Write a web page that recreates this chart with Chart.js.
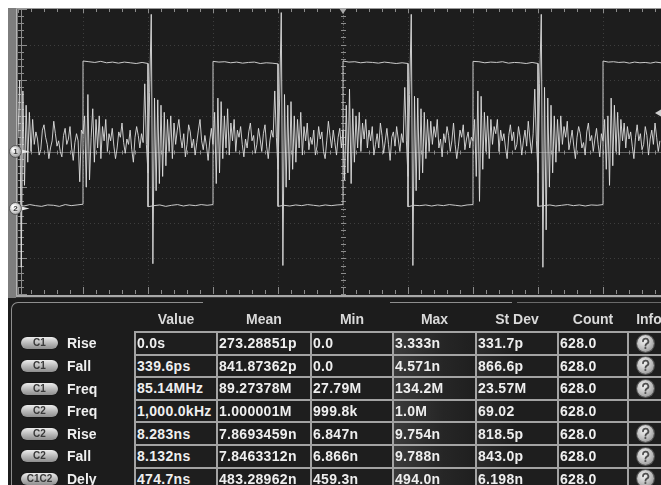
<!DOCTYPE html>
<html>
<head>
<meta charset="utf-8">
<script src="https://cdn.jsdelivr.net/npm/chart.js@4.4.1/dist/chart.umd.min.js"></script>
<style>
  html, body { margin: 0; padding: 0; background: #ffffff; }
  body { position: relative; width: 661px; height: 485px; overflow: hidden;
         font-family: "Liberation Sans", Arial, sans-serif; }
  #scope { position: absolute; left: 8px; top: 8px; width: 653px; height: 477px; background: #1c1c1c; }
  #wave { position: absolute; left: 8px; top: 8px; }
  #meas { position: absolute; left: 0; top: 0; width: 661px; height: 485px; overflow: hidden; }
  .frame { position: absolute; border-color: #8e8e8e; border-style: solid; border-width: 0; }
  .hd { position: absolute; top: 311px; height: 16px; line-height: 16px; font-weight: bold;
        font-size: 14px; color: #dadada; text-align: center; white-space: nowrap; }
  .gridbg { position: absolute; background: #a3a3a3; }
  .cell { position: absolute; background: #1e1e1e; color: #efefef; font-weight: bold; font-size: 14px;
          letter-spacing: 0.3px; white-space: nowrap; padding-left: 1px; box-sizing: border-box;
          display: flex; align-items: center; }
  .pill { position: absolute; left: 21px; width: 37px; height: 12px; border-radius: 6px;
          background: linear-gradient(#ededed, #b6b6b6 55%, #8e8e8e); color: #3a3a3a;
          font-weight: bold; font-size: 10px; line-height: 12px; text-align: center;
          box-shadow: 0 0 1px #000; }
  .rlab { position: absolute; left: 67px; height: 16px; line-height: 16px; color: #f0f0f0;
          font-weight: bold; font-size: 14px; }
  .info { position: absolute; width: 17px; height: 17px; border-radius: 50%;
          background: radial-gradient(circle at 40% 35%, #f4f4f4, #b9b9b9 55%, #7a7a7a);
          box-shadow: 0 0 0 1px #555; }
</style>
</head>
<body>
<div id="scope"></div>
<canvas id="wave" width="653" height="290"></canvas>
<div id="meas"></div>
<script>
// ---- time base: ns (500 ns / div), vertical: screen divisions ----
const X_MIN = -2500;
const X_MAX = 2446;
const Y_MIN = -4;
const Y_MAX = 4;

// Channel 1: sampled every 12.5 ns starting at X_MIN, one array per horizontal division
const C1_T0 = -2500;
const C1_DT = 12.5;
const c1Div0 = [0.4, 2.0, -3.25, 1.7, -0.95, 1.3, -0.3, 1.1, 0.0, 0.9,
  0.2, 0.55, 0.35, -0.1, 0.05, 0.6, 0.75, 0.4, 0.2, -0.2,
  0.1, 0.3, 0.85, 0.5, 0.15, 0.3, 0.0, -0.15, 0.45, 0.65,
  0.2, 0.35, 0.7, 0.1, -0.25, 0.25, 0.5, 0.3, -0.85, 0.6];
const c1Div1 = [0.5, 1.0, -1.0, 1.6, -0.8, 0.4, 1.2, -0.3, 0.9, 0.1,
  1.0, -0.2, 0.7, 0.3, 0.9, 0.0, 0.5, 0.3, 0.65, 0.15,
  -0.2, 0.1, 0.55, 0.4, 0.8, 0.25, -0.05, 0.35, 0.2, 0.6,
  0.05, -0.3, 0.4, 0.7, 0.45, 0.1, 0.5, 0.25, 1.9, 0.2];
const c1Div2 = [-0.6, 1.65, 3.85, -3.15, 1.5, -1.1, 1.45, -0.9, 1.3, -0.7,
  1.1, -0.4, 0.9, 0.0, 1.0, -0.2, 0.8, 0.2, 0.6, 0.9,
  0.4, 0.1, 0.5, -0.15, 0.2, 0.75, 0.55, 0.1, 0.35, -0.1,
  0.25, 0.6, 0.9, 0.3, 0.05, 0.45, 0.15, -0.25, 0.3, 0.65];
const c1Div3 = [0.2, 1.1, -0.9, 1.5, -0.6, 1.4, -0.2, 1.0, 0.1, 1.2,
  -0.1, 0.8, 0.3, 0.9, 0.0, 0.6, 0.4, 0.7, 0.2, -0.15,
  0.35, 0.1, 0.55, 0.8, 0.3, 0.45, -0.05, 0.2, 0.65, 0.35,
  0.0, 0.5, 0.75, 0.15, -0.2, 0.3, 0.6, 0.4, 1.7, 0.4];
const c1Div4 = [-0.5, 1.5, 3.9, -3.2, 1.6, -1.0, 1.3, -0.8, 1.4, -0.5,
  1.0, -0.3, 0.9, 0.1, 1.1, -0.1, 0.7, 0.3, 0.8, 0.05,
  0.4, 0.2, 0.6, -0.1, 0.15, 0.7, 0.35, 0.55, 0.0, -0.2,
  0.3, 0.85, 0.45, 0.1, 0.6, 0.25, -0.1, 0.4, 0.65, 0.1];
const c1Div5 = [0.6, -0.8, 1.3, -0.6, 1.75, -0.9, 1.2, -0.3, 1.0, 0.1,
  1.1, 0.0, 0.8, 0.35, 0.9, 0.1, 0.6, 0.3, 0.7, -0.1,
  0.2, 0.5, 0.1, 0.8, 0.45, -0.05, 0.3, 0.65, 0.2, -0.25,
  0.4, 0.55, 0.15, 0.7, 0.35, 0.0, 0.5, 0.25, 1.8, 0.3];
const c1Div6 = [-0.7, 1.6, 3.85, -3.2, 1.55, -1.1, 1.5, -0.8, 1.2, -0.6,
  1.1, -0.2, 0.9, 0.0, 0.85, 0.2, 0.7, 0.4, 0.9, 0.1,
  0.35, -0.15, 0.5, 0.25, 0.7, 0.45, 0.0, 0.3, 0.8, 0.2,
  -0.2, 0.15, 0.6, 0.4, 0.75, 0.05, 0.35, 0.55, 0.1, 0.4];
const c1Div7 = [0.3, 0.9, -0.7, 1.7, -1.4, 1.55, -0.5, 1.1, 0.0, 1.0,
  -0.2, 0.9, 0.2, 0.7, 0.5, 0.9, 0.0, 0.6, 0.3, 0.5,
  0.1, -0.2, 0.45, 0.75, 0.3, 0.55, 0.05, 0.2, 0.7, 0.4,
  -0.1, 0.3, 0.6, 0.15, 0.85, 0.35, -0.05, 0.5, 1.75, 0.3];
const c1Div8 = [-0.6, 1.9, 3.85, -3.25, 1.8, -2.2, 1.5, -1.0, 1.3, -0.6,
  1.0, -0.3, 0.9, 0.0, 1.0, 0.2, 0.7, 0.4, 0.85, 0.05,
  0.3, 0.6, 0.15, -0.2, 0.4, 0.7, 0.5, 0.1, 0.25, -0.1,
  0.55, 0.8, 0.3, 0.45, 0.0, 0.35, 0.65, 0.2, -0.15, 0.5];
const c1Div9 = [0.3, 0.9, -0.5, 1.0, -0.95, 1.5, -0.4, 1.3, 0.0, 1.1,
  -0.1, 0.9, 0.3, 0.8, 0.1, 0.7, 0.35, 0.55, 0.15, -0.2,
  0.4, 0.75, 0.3, 0.5, 0.05, 0.2, 0.7, 0.45, -0.1, 0.35,
  0.6, 0.2, 0.8, 0.4, 0.0, 0.3];

// Channel 2: 1 MHz square wave, edges (ns) and the level held between them (div)
const c2Edges = [-2500, -2000, -1500, -1000, -500, 0, 500, 1000, 1500, 2000, 2446];
const c2Levels = [-1.52, 2.49, -1.52, 2.49, -1.52, 2.49, -1.52, 2.49, -1.52, 2.49];
const c2Ripple = [
  [0.02, -0.01, 0.03, 0.0, -0.02, 0.02, 0.01, -0.02, 0.03, 0.0, 0.02, 0.04],
  [0.05, 0.03, 0.01, 0.04, 0.0, 0.02, -0.01, 0.02, 0.0, -0.02, 0.01, -0.02],
  [-0.03, 0.0, 0.02, -0.02, 0.01, 0.03, -0.01, 0.02, 0.0, 0.03, 0.01, 0.03],
  [0.04, 0.02, 0.03, 0.0, 0.02, -0.01, 0.01, 0.02, -0.02, 0.0, -0.01, -0.03],
  [-0.02, 0.01, -0.01, 0.02, 0.0, 0.03, 0.01, -0.01, 0.02, 0.0, 0.02, 0.03],
  [0.05, 0.02, 0.03, 0.0, 0.02, 0.01, -0.01, 0.02, 0.0, -0.02, 0.0, -0.02],
  [-0.03, 0.01, 0.0, 0.02, -0.01, 0.02, 0.0, 0.03, 0.01, -0.01, 0.02, 0.03],
  [0.04, 0.03, 0.0, 0.02, 0.01, 0.03, -0.01, 0.01, 0.0, -0.02, 0.01, -0.02],
  [-0.02, 0.0, 0.02, -0.01, 0.01, 0.03, 0.0, 0.02, -0.01, 0.02, 0.01, 0.03],
  [0.05, 0.02, 0.03, 0.01, 0.02, -0.01, 0.02, 0.0, 0.01, -0.01, 0.02, 0.0]
];

// Ground reference markers and trigger settings
const c1Ground = 0;
const c2Ground = -1.6;
const triggerTime = 0;
const triggerLevel = 1.08;

// Measurement panel
const measColumns = ['Value', 'Mean', 'Min', 'Max', 'St Dev', 'Count', 'Info'];
const measSources = ['C1', 'C1', 'C1', 'C2', 'C2', 'C2', 'C1C2'];
const measNames = ['Rise', 'Fall', 'Freq', 'Freq', 'Rise', 'Fall', 'Dely'];
const measValue = ['0.0s', '339.6ps', '85.14MHz', '1,000.0kHz', '8.283ns', '8.132ns', '474.7ns'];
const measMean = ['273.28851p', '841.87362p', '89.27378M', '1.000001M', '7.8693459n', '7.8463312n', '483.28962n'];
const measMin = ['0.0', '0.0', '27.79M', '999.8k', '6.847n', '6.866n', '459.3n'];
const measMax = ['3.333n', '4.571n', '134.2M', '1.0M', '9.754n', '9.788n', '494.0n'];
const measStdDev = ['331.7p', '866.6p', '23.57M', '69.02', '818.5p', '843.0p', '6.198n'];
const measCount = ['628.0', '628.0', '628.0', '628.0', '628.0', '628.0', '628.0'];
const measInfo = [true, true, true, false, true, true, true];

// ---------- build datasets ----------
const c1Values = [].concat(c1Div0, c1Div1, c1Div2, c1Div3, c1Div4, c1Div5, c1Div6, c1Div7, c1Div8, c1Div9);
const c1Points = c1Values.map((v, i) => ({ x: C1_T0 + i * C1_DT, y: v }));

const c2Points = [];
for (let k = 0; k < c2Levels.length; k++) {
  const t0 = c2Edges[k], t1 = c2Edges[k + 1], r = c2Ripple[k];
  for (let j = 0; j < r.length; j++) {
    c2Points.push({ x: t0 + (t1 - t0) * j / (r.length - 1), y: c2Levels[k] + r[j] });
  }
}

// ---------- screen furniture: bezel, graticule, markers ----------
function badge(ctx, cx, cy, label, light) {
  ctx.fillStyle = '#e6e6e6';
  ctx.beginPath();
  ctx.moveTo(cx + 4, cy - 2.5);
  ctx.lineTo(cx + 14, cy);
  ctx.lineTo(cx + 4, cy + 2.5);
  ctx.closePath();
  ctx.fill();
  const g = ctx.createRadialGradient(cx - 2, cy - 2, 1, cx, cy, 7);
  g.addColorStop(0, '#ffffff');
  g.addColorStop(0.6, light ? '#cfcfcf' : '#bdbdbd');
  g.addColorStop(1, '#808080');
  ctx.fillStyle = g;
  ctx.beginPath();
  ctx.arc(cx, cy, 6, 0, Math.PI * 2);
  ctx.fill();
  ctx.strokeStyle = '#4a4a4a';
  ctx.lineWidth = 0.8;
  ctx.stroke();
  ctx.fillStyle = '#3a3a3a';
  ctx.font = 'bold 8px "Liberation Sans", Arial, sans-serif';
  ctx.textAlign = 'center';
  ctx.textBaseline = 'middle';
  ctx.fillText(label, cx, cy + 0.5);
}

const scopePlugin = {
  id: 'scopeScreen',
  beforeDraw(chart) {
    const { ctx, width, height, chartArea: a } = chart;
    ctx.save();
    ctx.fillStyle = '#1d1d1d';
    ctx.fillRect(0, 0, width, height);
    // left bezel strip
    ctx.fillStyle = '#7d7d7d';
    ctx.fillRect(0, 0, 8, height);
    ctx.fillStyle = '#b3b3b3';
    ctx.fillRect(8, 0, 1.6, a.bottom + 3);
    // top and bottom edges of the screen
    ctx.fillStyle = '#9a9a9a';
    ctx.fillRect(8, 0, width, 1);
    ctx.fillStyle = '#a9a9a9';
    ctx.fillRect(8, a.bottom + 1, width, 2.2);
    ctx.restore();
  },
  beforeDatasetsDraw(chart) {
    const { ctx, chartArea: a, scales: { x, y } } = chart;
    ctx.save();
    ctx.beginPath();
    ctx.rect(a.left, a.top - 1, a.right - a.left, a.bottom - a.top + 2);
    ctx.clip();

    // dotted division lines
    ctx.strokeStyle = 'rgba(125,125,125,0.35)';
    ctx.lineWidth = 1;
    ctx.setLineDash([1, 3]);
    for (let t = X_MIN + 500; t < X_MAX; t += 500) {
      const px = Math.round(x.getPixelForValue(t)) + 0.5;
      ctx.beginPath(); ctx.moveTo(px, a.top); ctx.lineTo(px, a.bottom); ctx.stroke();
    }
    for (let v = Y_MIN + 1; v < Y_MAX; v++) {
      if (v === 0) continue;
      const py = Math.round(y.getPixelForValue(v)) + 0.5;
      ctx.beginPath(); ctx.moveTo(a.left, py); ctx.lineTo(a.right, py); ctx.stroke();
    }
    ctx.setLineDash([]);

    // centre cross
    const cy0 = Math.round(y.getPixelForValue(0)) + 0.5;
    const cx0 = Math.round(x.getPixelForValue(0)) + 0.5;
    ctx.strokeStyle = 'rgba(150,150,150,0.55)';
    ctx.beginPath(); ctx.moveTo(a.left, cy0); ctx.lineTo(a.right, cy0); ctx.stroke();
    ctx.setLineDash([1, 2]);
    ctx.beginPath(); ctx.moveTo(cx0, a.top); ctx.lineTo(cx0, a.bottom); ctx.stroke();
    ctx.setLineDash([]);

    // tick marks: top, bottom, centre horizontal
    ctx.strokeStyle = '#8c8c8c';
    for (let k = 0; ; k++) {
      const t = X_MIN + k * 100;
      if (t > X_MAX) break;
      const major = k % 5 === 0;
      const px = Math.round(x.getPixelForValue(t)) + 0.5;
      ctx.beginPath();
      ctx.moveTo(px, a.top); ctx.lineTo(px, a.top + (major ? 4 : 3));
      ctx.moveTo(px, a.bottom); ctx.lineTo(px, a.bottom - (major ? 7 : 4));
      ctx.moveTo(px, cy0 - 2); ctx.lineTo(px, cy0 + 2);
      ctx.stroke();
    }
    // left scale and centre vertical ticks
    const lx = a.left + 3.5;
    ctx.beginPath(); ctx.moveTo(lx, a.top); ctx.lineTo(lx, a.bottom); ctx.stroke();
    for (let k = 0; k <= 40; k++) {
      const v = Y_MIN + k * 0.2;
      const major = k % 5 === 0;
      const py = Math.round(y.getPixelForValue(v)) + 0.5;
      ctx.beginPath();
      ctx.moveTo(a.left, py); ctx.lineTo(a.left + (major ? 9 : 6), py);
      ctx.moveTo(cx0 - 2.5, py); ctx.lineTo(cx0 + 2.5, py);
      ctx.stroke();
    }
    ctx.restore();
  },
  afterDatasetsDraw(chart) {
    const { ctx, width, scales: { x, y } } = chart;
    ctx.save();
    // trigger position marker
    const tx = x.getPixelForValue(triggerTime);
    ctx.fillStyle = '#a9a9a9';
    ctx.beginPath();
    ctx.moveTo(tx - 4, 0); ctx.lineTo(tx + 4, 0); ctx.lineTo(tx, 6); ctx.closePath();
    ctx.fill();
    // trigger level marker
    const ty = y.getPixelForValue(triggerLevel);
    ctx.fillStyle = '#d0d0d0';
    ctx.beginPath();
    ctx.moveTo(width - 6, ty); ctx.lineTo(width, ty - 3.5); ctx.lineTo(width, ty + 3.5); ctx.closePath();
    ctx.fill();
    // channel ground markers
    badge(ctx, 7.5, y.getPixelForValue(c1Ground), '1', false);
    badge(ctx, 7.5, y.getPixelForValue(c2Ground), '2', true);
    ctx.restore();
  }
};

new Chart(document.getElementById('wave'), {
  type: 'line',
  data: {
    datasets: [
      { label: 'C2', data: c2Points, borderColor: '#cbcbcb', borderWidth: 1,
        pointRadius: 0, tension: 0 },
      { label: 'C1', data: c1Points, borderColor: 'rgba(222,222,222,0.9)', borderWidth: 1,
        pointRadius: 0, tension: 0, borderJoinStyle: 'bevel' }
    ]
  },
  options: {
    responsive: false,
    animation: false,
    devicePixelRatio: 1,
    layout: { padding: { left: 10, top: 1, right: 0, bottom: 4 } },
    scales: {
      x: { type: 'linear', min: X_MIN, max: X_MAX, display: false },
      y: { type: 'linear', min: Y_MIN, max: Y_MAX, display: false }
    },
    plugins: { legend: { display: false }, tooltip: { enabled: false } }
  },
  plugins: [scopePlugin]
});

// ---------- measurement table ----------
const colX = [135, 217, 311, 393, 476, 558, 628, 664];
const rowTop = 332, rowH = 22.6;
const meas = document.getElementById('meas');
function add(cls, css, text) {
  const d = document.createElement('div');
  d.className = cls;
  Object.assign(d.style, css);
  if (text !== undefined) d.textContent = text;
  meas.appendChild(d);
  return d;
}
// panel frame
add('frame', { left: '11px', top: '302px', width: '191px', height: '200px',
  borderLeftWidth: '1.5px', borderTopWidth: '1.5px', borderTopLeftRadius: '7px' });
add('frame', { left: '390px', top: '302px', width: '122px', height: '0px', borderTopWidth: '1.5px' });
add('frame', { left: '517px', top: '302px', width: '150px', height: '0px', borderTopWidth: '1.5px', borderColor: '#6a6a6a' });

// headers
measColumns.forEach((name, c) => {
  const l = colX[c], r = colX[c + 1];
  const center = c === measColumns.length - 1 ? 649 : (l + r) / 2;
  add('hd', { left: (center - 40) + 'px', width: '80px' }, name);
});

// cell grid
const nRows = measNames.length;
add('gridbg', { left: (colX[0] - 1) + 'px', top: (rowTop - 1) + 'px',
  width: (colX[colX.length - 1] - colX[0] + 2) + 'px', height: (nRows * rowH + 2) + 'px' });
const cols = [measValue, measMean, measMin, measMax, measStdDev, measCount];
for (let r = 0; r < nRows; r++) {
  const top = rowTop + r * rowH;
  const mid = top + rowH / 2;
  for (let c = 0; c < colX.length - 1; c++) {
    const css = { left: (colX[c] + 1) + 'px', top: (top + 1) + 'px',
      width: (colX[c + 1] - colX[c] - 2) + 'px', height: (rowH - 2) + 'px' };
    if (c === 3) css.background = 'linear-gradient(90deg, #3b3b3b, #262626 60%, #1f1f1f)';
    if (c === 4) css.background = 'linear-gradient(90deg, #2c2c2c, #1e1e1e 50%)';
    add('cell', css, c < cols.length ? cols[c][r] : undefined);
  }
  // row source pill and measurement name
  add('pill', { top: (mid - 6) + 'px' }, measSources[r]);
  add('rlab', { top: (mid - 8) + 'px' }, measNames[r]);
  // info button
  if (measInfo[r]) {
    const b = add('info', { left: (645 - 8.5) + 'px', top: (mid - 8.5) + 'px' });
    b.innerHTML = '<svg width="17" height="17" viewBox="0 0 17 17">' +
      '<path d="M6 6.3a2.7 2.6 0 1 1 3.9 2.3c-0.9 0.5-1.4 1.1-1.4 2.1" fill="none" stroke="#4e4e4e" stroke-width="1.8" stroke-linecap="round"/>' +
      '<circle cx="8.4" cy="13" r="1.1" fill="#4e4e4e"/></svg>';
  }
}
</script>
</body>
</html>
